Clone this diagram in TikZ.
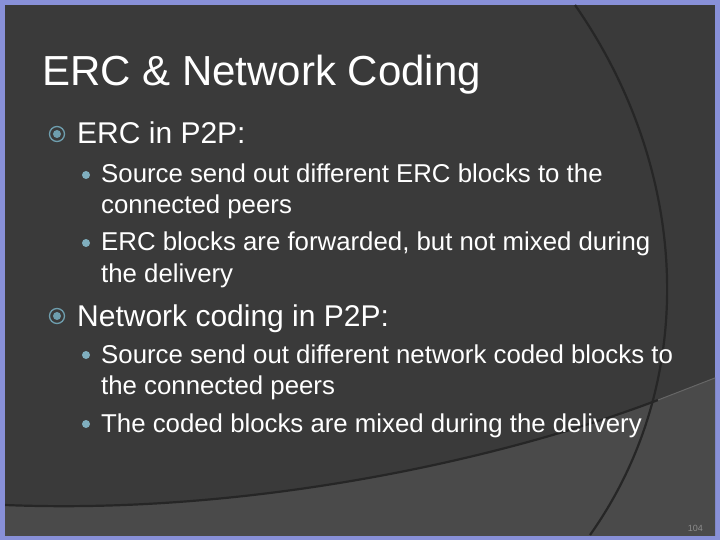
\documentclass[tikz,border=0pt]{standalone}
\usepackage{fontspec}
\setmainfont{Liberation Sans}
\definecolor{frame}{HTML}{8890D8}
\definecolor{bg}{HTML}{3A3A3A}
\definecolor{bglight}{HTML}{4A4A4A}
\definecolor{teal}{HTML}{6E9EAE}
\definecolor{dot}{HTML}{7FAEBE}
\begin{document}
\begin{tikzpicture}[x=1pt,y=-1pt,
  titletxt/.style={anchor=base west,text=white,font=\fontsize{42}{42}\selectfont,inner sep=0},
  lone/.style={anchor=base west,text=white,font=\fontsize{30}{30}\selectfont,inner sep=0},
  ltwo/.style={anchor=base west,text=white,font=\fontsize{25.8}{26}\selectfont,inner sep=0}]
\fill[frame] (0,0) rectangle (720,540);
\fill[bg] (5,5) rectangle (715,535);
\begin{scope}
\clip (5,5) rectangle (715,535);
\fill[bglight] (5,505) .. controls (250,515) and (500,460) .. (658,400) -- (720,376) -- (720,540) -- (0,540) -- cycle;
\draw[black!85,line width=2.2pt] (575,5) .. controls (690,170) and (700,380) .. (590,535);
\draw[black!85,line width=2.2pt] (5,505) .. controls (250,515) and (500,460) .. (658,400);
\draw[black!60,line width=1pt] (658,400) -- (720,376);
\end{scope}
\node[titletxt] (t) at (42,86) {ERC \& Network Coding};
\node[lone] (a) at (77,144) {ERC in P2P:};
\node[ltwo] (a1) at (101,183) {Source send out different ERC blocks to the};
\node[ltwo] (a1b) at (101,214) {connected peers};
\node[ltwo] (a2) at (101,251) {ERC blocks are forwarded, but not mixed during};
\node[ltwo] (a2b) at (101,282) {the delivery};
\node[lone] (b) at (77,326) {Network coding in P2P:};
\node[ltwo] (b1) at (101,363) {Source send out different network coded blocks to};
\node[ltwo] (b1b) at (101,394) {the connected peers};
\node[ltwo] (b2) at (101,432) {The coded blocks are mixed during the delivery};
\foreach \y in {134,316}{
  \draw[teal,line width=1.3pt] (57,\y) circle (7.5);
  \fill[teal] (57,\y) circle (4);
}
\foreach \y in {175,243,355,424} \fill[dot] (86,\y) circle (4);
\node[text=black!45,font=\fontsize{9}{9}\selectfont,anchor=base east,inner sep=0] (pg) at (703,531) {104};
\end{tikzpicture}
\end{document}
